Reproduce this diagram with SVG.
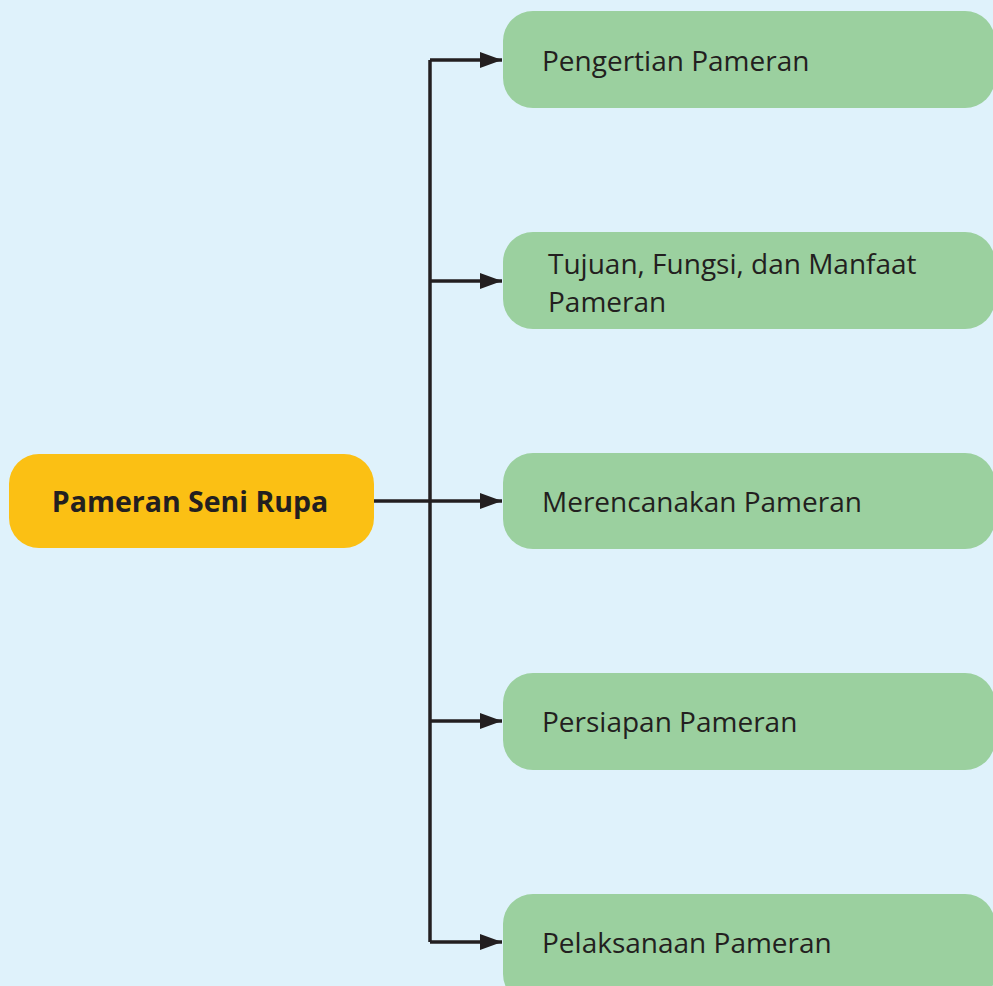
<svg xmlns="http://www.w3.org/2000/svg" width="993" height="986" viewBox="0 0 993 986">
<defs>
<style>
.bg{fill:#dff2fb}
.leaf{fill:#9bd09f}
.root{fill:#fbc014}
.t{font-family:"Open Sans","Noto Sans",sans-serif;font-size:28px;fill:#231f20}
.tb{font-family:"Open Sans","Noto Sans",sans-serif;font-size:28.5px;font-weight:bold;fill:#231f20}
.line{stroke:#231f20;stroke-width:3.5;fill:none}
</style>
<marker id="arr" markerUnits="userSpaceOnUse" markerWidth="24" markerHeight="16" refX="22" refY="8" orient="auto">
<path d="M0,0 L22,8 L0,16 Z" fill="#231f20"/>
</marker>
</defs>
<rect class="bg" x="0" y="0" width="993" height="986"/>
<g id="connectors">
<path class="line" d="M430,60 V942"/>
<path class="line" d="M374,501 H430"/>
<path class="line" d="M430,60 H502" marker-end="url(#arr)"/>
<path class="line" d="M430,281 H502" marker-end="url(#arr)"/>
<path class="line" d="M430,501 H502" marker-end="url(#arr)"/>
<path class="line" d="M430,721 H502" marker-end="url(#arr)"/>
<path class="line" d="M430,942 H502" marker-end="url(#arr)"/>
</g>
<g id="root">
<rect class="root" x="9" y="454" width="365" height="94" rx="30"/>
<text class="tb" x="190" y="512" text-anchor="middle">Pameran Seni Rupa</text>
</g>
<g id="n1">
<rect class="leaf" x="503" y="11" width="492" height="97" rx="30"/>
<text class="t" x="542" y="71">Pengertian Pameran</text>
</g>
<g id="n2">
<rect class="leaf" x="503" y="232" width="492" height="97" rx="30"/>
<text class="t" x="548" y="274">Tujuan, Fungsi, dan Manfaat</text>
<text class="t" x="548" y="312">Pameran</text>
</g>
<g id="n3">
<rect class="leaf" x="503" y="453" width="492" height="96" rx="30"/>
<text class="t" x="542" y="512">Merencanakan Pameran</text>
</g>
<g id="n4">
<rect class="leaf" x="503" y="673" width="492" height="97" rx="30"/>
<text class="t" x="542" y="732">Persiapan Pameran</text>
</g>
<g id="n5">
<rect class="leaf" x="503" y="894" width="492" height="110" rx="30"/>
<text class="t" x="542" y="953">Pelaksanaan Pameran</text>
</g>
</svg>
